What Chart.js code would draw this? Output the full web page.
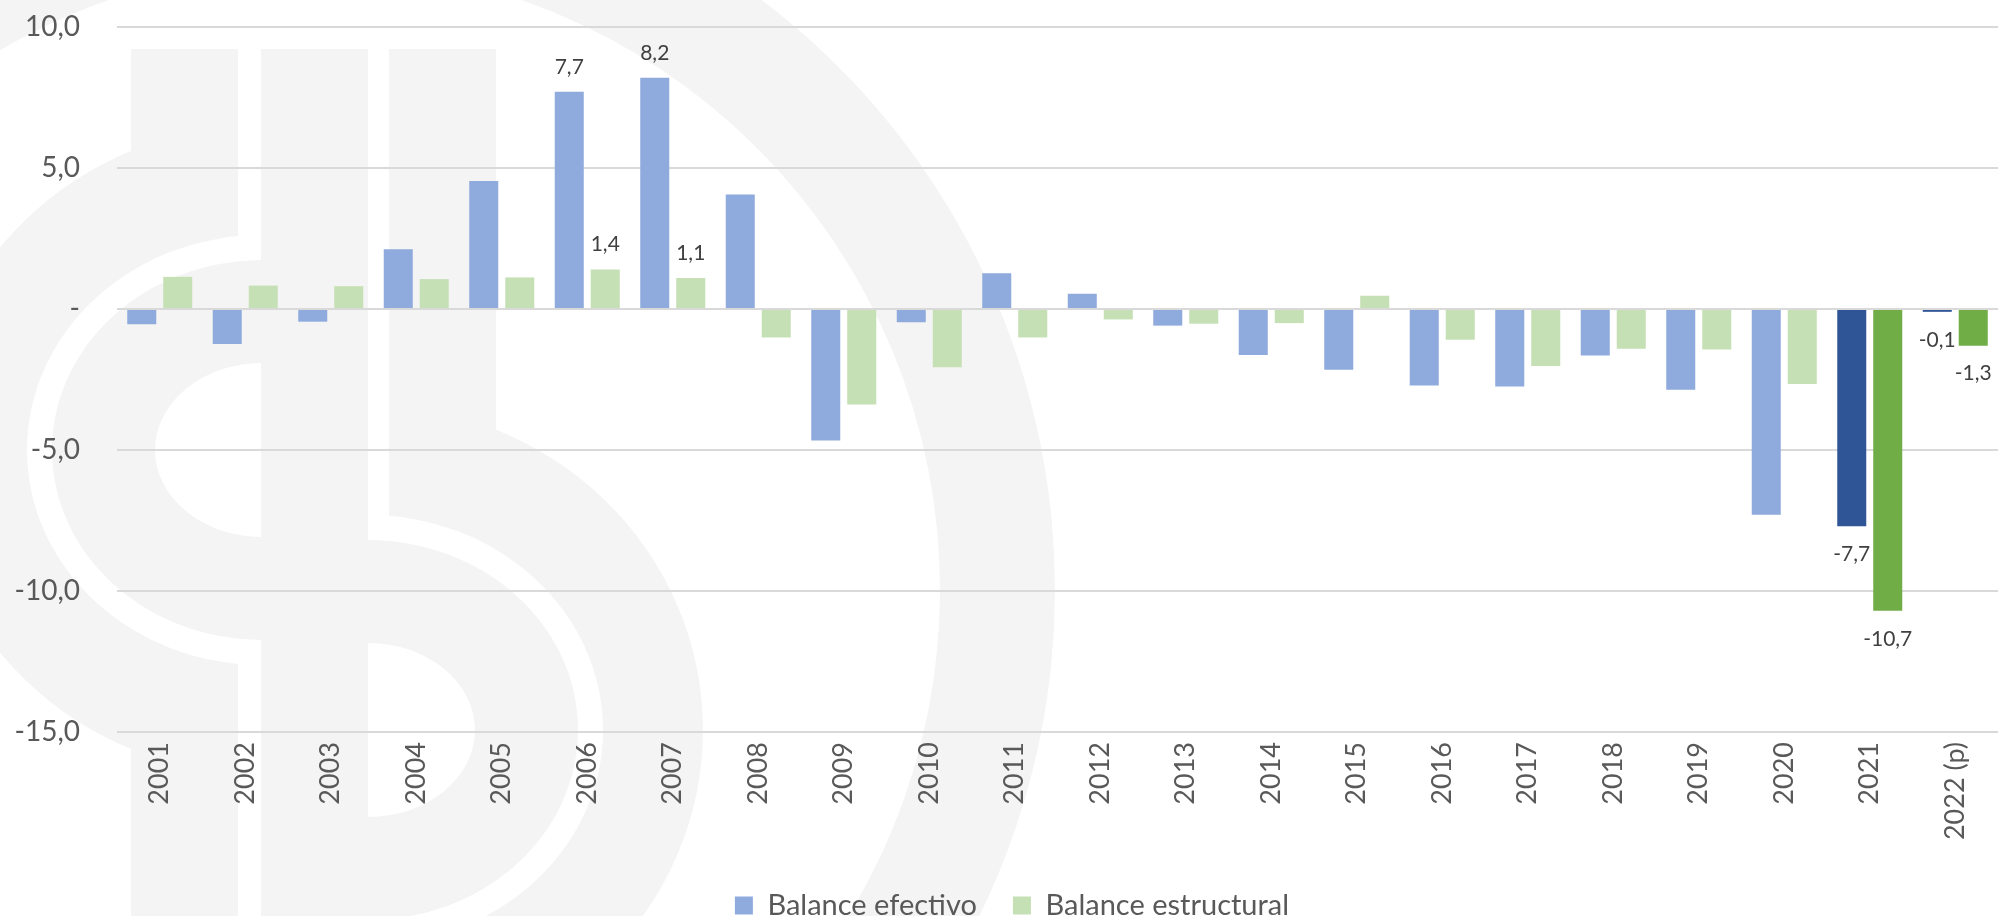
<!DOCTYPE html>
<html>
<head>
<meta charset="utf-8">
<script src="https://cdn.jsdelivr.net/npm/chart.js@4.4.1/dist/chart.umd.min.js"></script>
<style>
  html, body { margin: 0; padding: 0; background: #fff; }
  canvas { display: block; }
</style>
</head>
<body>
<canvas id="balanceChart" width="2000" height="916"></canvas>
<script>
// Data
const years = ['2001', '2002', '2003', '2004', '2005', '2006', '2007', '2008', '2009', '2010', '2011',
    '2012', '2013', '2014', '2015', '2016', '2017', '2018', '2019', '2020', '2021', '2022 (p)'];
const balanceEfectivo = [-0.54, -1.24, -0.45, 2.12, 4.54, 7.7, 8.2, 4.06, -4.66, -0.47, 1.27,
    0.54, -0.59, -1.63, -2.15, -2.71, -2.75, -1.65, -2.86, -7.3, -7.7, -0.1];
const balanceEstructural = [1.14, 0.83, 0.81, 1.06, 1.12, 1.4, 1.1, -1.01, -3.39, -2.07, -1.01,
    -0.37, -0.52, -0.5, 0.47, -1.09, -2.02, -1.41, -1.44, -2.66, -10.7, -1.3];
const yTicks = [-15, -10, -5, 0, 5, 10];
const yTickLabels = ['-15,0', '-10,0', '-5,0', '-', '5,0', '10,0'];
const labelledYears = ['2006', '2007', '2021', '2022 (p)'];
const highlightYears = ['2021', '2022 (p)'];

const FONT = 'Lato, "Open Sans", sans-serif';
const TEXT = '#595959';
const fmt = v => v.toFixed(1).replace('.', ',');

// light gray watermark behind the chart
const watermark = {
    id: 'watermark',
    beforeDraw(chart) {
        const ctx = chart.ctx;
        const g = '#F4F4F4';
        ctx.save();
        ctx.fillStyle = '#fff';
        ctx.fillRect(0, 0, chart.width, chart.height);

        ctx.fillStyle = g;
        ctx.beginPath();
        ctx.arc(315, 590, 740, 0, Math.PI * 2);
        ctx.arc(315, 590, 625, 0, Math.PI * 2);
        ctx.fill('evenodd');

        ctx.fillRect(131, 49, 107, 867);
        ctx.fillRect(261, 49, 107, 867);
        ctx.fillRect(389, 49, 107, 867);

        function oval(cx, cy, rx, ry, color, x0, x1) {
            ctx.save();
            ctx.beginPath();
            ctx.rect(x0, 0, x1 - x0, chart.height);
            ctx.clip();
            ctx.fillStyle = color;
            ctx.beginPath();
            ctx.ellipse(cx, cy, rx, ry, 0, 0, Math.PI * 2);
            ctx.fill();
            ctx.restore();
        }
        // outer rings
        oval(262, 450, 335, 325, g, -100, 238);
        oval(262, 450, 235, 215, '#fff', -100, 238);
        oval(368, 730, 335, 325, g, 389, 1200);
        oval(368, 730, 235, 215, '#fff', 389, 1200);
        // bowls
        oval(262, 450, 210, 190, g, -100, 261);
        oval(262, 450, 107, 87, '#fff', -100, 261);
        oval(368, 730, 210, 190, g, 368, 1200);
        oval(368, 730, 107, 87, '#fff', 368, 1200);
        ctx.restore();
    }
};

// value labels for a few years
const valueLabels = {
    id: 'valueLabels',
    afterDatasetsDraw(chart) {
        const ctx = chart.ctx;
        ctx.save();
        ctx.font = '21px ' + FONT;
        ctx.fillStyle = '#404040';
        ctx.textAlign = 'center';
        ctx.textBaseline = 'middle';
        chart.data.datasets.forEach((ds, di) => {
            chart.getDatasetMeta(di).data.forEach((bar, i) => {
                if (!labelledYears.includes(years[i])) return;
                const v = ds.data[i];
                const y = v >= 0 ? bar.y - 25 : bar.y + 28;
                ctx.fillText(fmt(v), bar.x, y);
            });
        });
        ctx.restore();
    }
};

// nudge the legend a little to the right, like the original
const legendShift = {
    id: 'legendShift',
    afterLayout(chart) {
        chart.legend.left += 13;
        chart.legend.right += 13;
    }
};

const legendPadding = 36;
const legendFont = 29;
const bottomShift = 14;
const xAxisHeight = (916 + bottomShift) - (legendFont + legendPadding + 10) - 732;

new Chart(document.getElementById('balanceChart'), {
    type: 'bar',
    data: {
        labels: years,
        datasets: [{
            label: 'Balance efectivo',
            data: balanceEfectivo,
            backgroundColor: c => highlightYears.includes(years[c.dataIndex]) ? '#2F5597' : '#8FAADC'
        }, {
            label: 'Balance estructural',
            data: balanceEstructural,
            backgroundColor: c => highlightYears.includes(years[c.dataIndex]) ? '#70AD47' : '#C5E0B4'
        }]
    },
    options: {
        responsive: false,
        animation: false,
        devicePixelRatio: 1,
        layout: { padding: { top: 27, right: 2, left: 0, bottom: -bottomShift } },
        datasets: { bar: { categoryPercentage: 0.842, barPercentage: 0.806 } },
        plugins: {
            legend: {
                position: 'bottom',
                labels: {
                    boxWidth: 18,
                    boxHeight: 18,
                    padding: legendPadding,
                    color: TEXT,
                    font: { family: FONT, size: legendFont }
                }
            },
            tooltip: { enabled: false }
        },
        scales: {
            x: {
                grid: { display: false, drawTicks: false },
                border: { display: false },
                afterFit: s => { s.height = xAxisHeight; },
                ticks: {
                    autoSkip: false,
                    minRotation: 90,
                    maxRotation: 90,
                    padding: 10,
                    color: TEXT,
                    font: { family: FONT, size: 27 }
                }
            },
            y: {
                min: -15,
                max: 10,
                afterBuildTicks: s => { s.ticks = yTicks.map(v => ({ value: v })); },
                afterFit: s => {
                    s.width = 117;
                    s.paddingTop = 17;
                    s.paddingBottom = 17;
                },
                grid: { color: '#D9D9D9', lineWidth: 2, drawTicks: false },
                border: { display: false },
                ticks: {
                    padding: 37,
                    color: TEXT,
                    font: { family: FONT, size: 28 },
                    callback: v => yTickLabels[yTicks.indexOf(v)]
                }
            }
        }
    },
    plugins: [watermark, valueLabels, legendShift]
});
</script>
</body>
</html>
